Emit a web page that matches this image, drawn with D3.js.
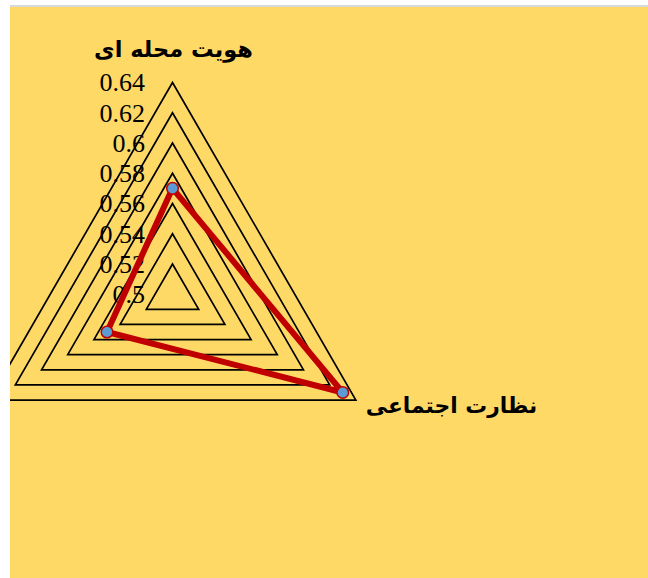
<!DOCTYPE html>
<html>
<head>
<meta charset="utf-8">
<script src="https://cdn.jsdelivr.net/npm/d3@7"></script>
<style>
  body { margin: 0; background: #fff; }
  #topbar { position: absolute; left: 10px; top: 5px; width: 638px; height: 2px; background: #d9d9d9; }
  #chart { position: absolute; left: 10px; top: 7px; width: 638px; height: 571px; background: #FFD966; overflow: hidden; }
</style>
</head>
<body>
<div id="topbar"></div>
<div id="chart"></div>
<script>
const categories = ["هویت محله ای", "نظارت اجتماعی", ""];
const values = [0.57, 0.63, 0.55];
const ticks = [0.5, 0.52, 0.54, 0.56, 0.58, 0.6, 0.62, 0.64];
const tickLabels = ["0.5", "0.52", "0.54", "0.56", "0.58", "0.6", "0.62", "0.64"];

const width = 638, height = 571;
const cx = 172.5, cy = 294.2, radius = 211.7;

const svg = d3.select("#chart").append("svg")
    .attr("width", width)
    .attr("height", height);

// page coordinates inside
const g = svg.append("g").attr("transform", "translate(-10,-7)");

const rScale = d3.scaleLinear()
    .domain([0.5, 0.64])
    .range([0, radius]);

const angle = (i) => (-90 + i * 120) * Math.PI / 180;
const point = (v, i) => [cx + rScale(v) * Math.cos(angle(i)), cy + rScale(v) * Math.sin(angle(i))];

// grid triangles
g.selectAll("polygon.grid")
    .data(ticks.filter(t => t > 0.5))
    .enter()
    .append("polygon")
    .attr("class", "grid")
    .attr("points", t => categories.map((c, i) => point(t, i).join(",")).join(" "))
    .attr("fill", "none")
    .attr("stroke", "#000")
    .attr("stroke-width", 1.7);

// tick labels
g.selectAll("text.tick")
    .data(ticks)
    .enter()
    .append("text")
    .attr("class", "tick")
    .attr("x", 145)
    .attr("y", t => point(t, 0)[1])
    .attr("dy", "0.34em")
    .attr("text-anchor", "end")
    .attr("font-family", "'Liberation Serif', 'Times New Roman', serif")
    .attr("font-size", 26)
    .text((t, i) => tickLabels[i]);

// series
const line = d3.line().curve(d3.curveLinearClosed);
g.append("path")
    .datum(values.map((v, i) => point(v, i)))
    .attr("d", line)
    .attr("fill", "none")
    .attr("stroke", "#C00000")
    .attr("stroke-width", 6)
    .attr("stroke-linejoin", "round");

g.selectAll("circle.marker")
    .data(values)
    .enter()
    .append("circle")
    .attr("class", "marker")
    .attr("cx", (v, i) => point(v, i)[0])
    .attr("cy", (v, i) => point(v, i)[1])
    .attr("r", 5.8)
    .attr("fill", "#5B9BD5")
    .attr("stroke", "#C00000")
    .attr("stroke-width", 1.5);

// category labels
const labelFont = "'DejaVu Sans', 'Noto Sans', sans-serif";
g.append("text")
    .attr("x", cx + 1)
    .attr("y", 57)
    .attr("text-anchor", "middle")
    .attr("font-family", labelFont)
    .attr("font-weight", "bold")
    .attr("font-size", 22.5)
    .text(categories[0]);

g.append("text")
    .attr("x", point(0.64, 1)[0] + 10)
    .attr("y", 413)
    .attr("direction", "rtl")
    .attr("text-anchor", "end")
    .attr("font-family", labelFont)
    .attr("font-weight", "bold")
    .attr("font-size", 21.8)
    .text(categories[1]);
</script>
</body>
</html>
